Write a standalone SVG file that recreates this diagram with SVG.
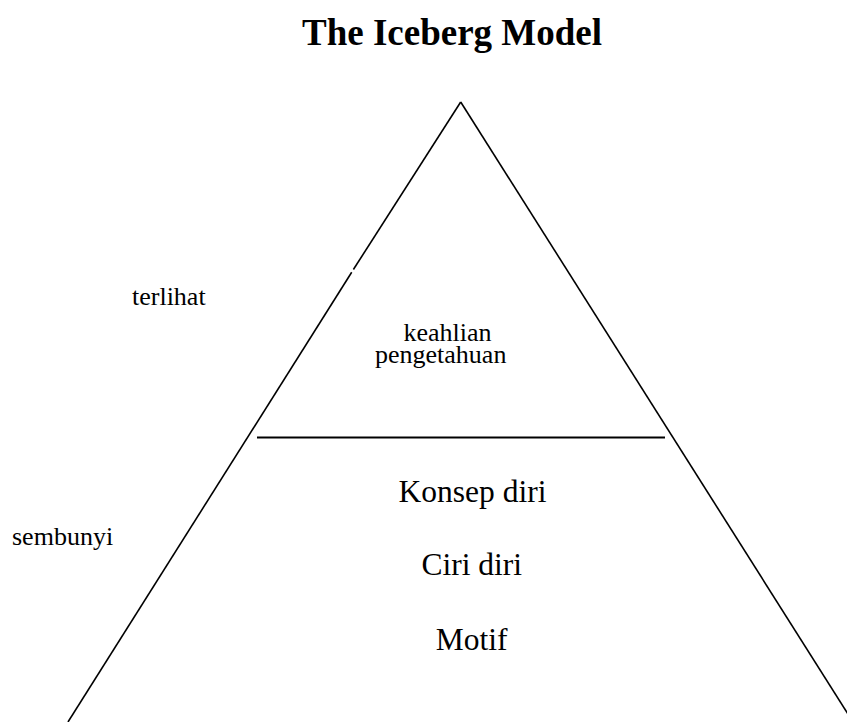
<svg xmlns="http://www.w3.org/2000/svg" width="847" height="722" viewBox="0 0 847 722">
  <style>
    .edge { stroke: #000; stroke-width: 1.6; fill: none; stroke-linecap: butt; }
    .lbl { font-family: "Liberation Serif", "Times New Roman", serif; fill: #000; }
    .title { font-size: 37px; font-weight: bold; text-anchor: middle; }
    .side { font-size: 26px; }
    .inner { font-size: 26px; }
    .deep { font-size: 31.5px; text-anchor: middle; }
  </style>
  <rect width="847" height="722" fill="#fff"/>

  <text class="lbl title" x="452" y="45">The Iceberg Model</text>

  <!-- iceberg outline and waterline -->
  <g id="connectors">
    <line class="edge" x1="460.7" y1="102" x2="353.4" y2="269.5"/>
    <line class="edge" x1="351.7" y1="272.3" x2="68" y2="722"/>
    <line class="edge" x1="460.7" y1="102" x2="853" y2="722"/>
    <line class="edge" x1="257" y1="437.5" x2="665" y2="437.5" style="stroke-width:2"/>
  </g>

  <g id="visible-label">
    <text class="lbl side" x="132" y="305">terlihat</text>
  </g>
  <g id="hidden-label">
    <text class="lbl side" x="12" y="545">sembunyi</text>
  </g>

  <g id="tip">
    <text class="lbl inner" x="403.5" y="340.7">keahlian</text>
    <text class="lbl inner" x="375" y="363.3">pengetahuan</text>
  </g>

  <g id="base">
    <text class="lbl deep" x="472.5" y="501.7">Konsep diri</text>
    <text class="lbl deep" x="471.7" y="575">Ciri diri</text>
    <text class="lbl deep" x="471.7" y="650">Motif</text>
  </g>
</svg>
